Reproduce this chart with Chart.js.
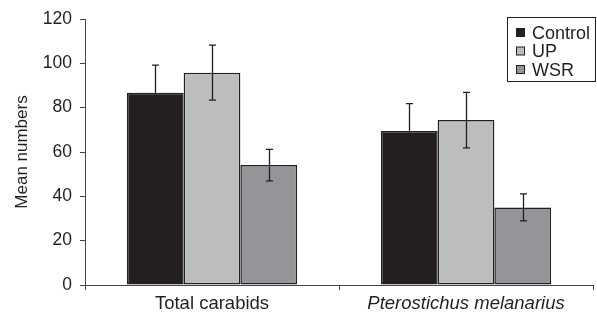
<!DOCTYPE html>
<html lang="en">
<head>
    <meta charset="utf-8" />
    <title>Mean numbers of carabids</title>
    <script src="https://cdn.jsdelivr.net/npm/chart.js@4.4.0/dist/chart.umd.min.js"></script>
    <style>
        html, body { margin: 0; padding: 0; background: #fff; }
        #wrap { width: 597px; height: 320px; }
    </style>
</head>
<body>
<div id="wrap"><canvas id="chart" width="597" height="320"></canvas></div>
<script>
    // data
    const categories = ['Total carabids', 'Pterostichus melanarius'];
    const seriesNames = ['Control', 'UP', 'WSR'];
    const controlMeans = [86.7, 69.5];
    const upMeans = [95.8, 74.4];
    const wsrMeans = [54.1, 35.0];
    const controlErr = [12.5, 12.3];
    const upErr = [12.4, 12.5];
    const wsrErr = [7.1, 6.1];
    const yTicks = [0, 20, 40, 60, 80, 100, 120];

    const colors = ['#231f20', '#bcbdbf', '#939598'];
    const edge = '#231f20';
    const font = "'Liberation Sans', Arial, sans-serif";

    const means = [controlMeans, upMeans, wsrMeans];
    const errs = [controlErr, upErr, wsrErr];

    // error bars drawn from the scales
    const errorBars = {
        id: 'errorBars',
        afterDatasetsDraw(chart) {
            const ctx = chart.ctx;
            const y = chart.scales.y;
            ctx.save();
            ctx.strokeStyle = edge;
            ctx.lineWidth = 1.3;
            chart.data.datasets.forEach((ds, i) => {
                const meta = chart.getDatasetMeta(i);
                meta.data.forEach((bar, j) => {
                    const v = ds.data[j];
                    const e = ds.err[j];
                    const top = y.getPixelForValue(v + e);
                    const bot = y.getPixelForValue(v - e);
                    const x = Math.round(bar.x) + 0.5;
                    ctx.beginPath();
                    ctx.moveTo(x, top);
                    ctx.lineTo(x, bot);
                    ctx.moveTo(x - 3.5, top);
                    ctx.lineTo(x + 3.5, top);
                    ctx.moveTo(x - 3.5, bot);
                    ctx.lineTo(x + 3.5, bot);
                    ctx.stroke();
                });
            });
            ctx.restore();
        }
    };

    // boxed legend in the top right corner
    const boxLegend = {
        id: 'boxLegend',
        afterDraw(chart) {
            const ctx = chart.ctx;
            ctx.save();
            ctx.strokeStyle = edge;
            ctx.lineWidth = 1;
            ctx.strokeRect(507.5, 17.5, 88, 64);
            ctx.font = '18px ' + font;
            ctx.textBaseline = 'middle';
            chart.data.datasets.forEach((ds, i) => {
                const cy = 33 + i * 18.5;
                ctx.fillStyle = ds.backgroundColor;
                ctx.fillRect(516.5, cy - 4.5, 8, 8);
                ctx.strokeRect(516.5, cy - 4.5, 8, 8);
                ctx.fillStyle = '#231f20';
                ctx.fillText(ds.label, 532, cy + 1);
            });
            ctx.restore();
        }
    };

    new Chart(document.getElementById('chart'), {
        type: 'bar',
        data: {
            labels: categories,
            datasets: seriesNames.map((name, i) => ({
                label: name,
                data: means[i],
                err: errs[i],
                backgroundColor: colors[i],
                borderColor: edge,
                borderWidth: 1.5,
                borderSkipped: false,
                barPercentage: 1,
                categoryPercentage: 0.67
            }))
        },
        options: {
            responsive: false,
            animation: false,
            layout: { padding: { top: 19, right: 4, left: 0, bottom: 0 } },
            plugins: {
                legend: { display: false },
                tooltip: { enabled: false }
            },
            scales: {
                x: {
                    grid: { display: true, drawOnChartArea: false, drawTicks: true, tickLength: 5, color: '#444', offset: true },
                    border: { color: '#444', width: 1 },
                    ticks: {
                        color: '#231f20',
                        padding: 3,
                        font: (c) => ({ family: font, size: 18.5, style: c.index === 1 ? 'italic' : 'normal' })
                    },
                    afterFit(scale) { scale.height = 35; }
                },
                y: {
                    min: 0,
                    max: 120,
                    afterBuildTicks(scale) { scale.ticks = yTicks.map(v => ({ value: v })); },
                    grid: { display: true, drawOnChartArea: false, drawTicks: true, tickLength: 5, color: '#444' },
                    border: { color: '#444', width: 1 },
                    ticks: { color: '#231f20', padding: 8, font: { family: font, size: 17.5 } },
                    title: { display: true, text: 'Mean numbers', color: '#231f20', font: { family: font, size: 17 }, padding: { top: 12, bottom: 0 } },
                    afterFit(scale) { scale.width = 85; }
                }
            }
        },
        plugins: [errorBars, boxLegend]
    });
</script>
</body>
</html>
